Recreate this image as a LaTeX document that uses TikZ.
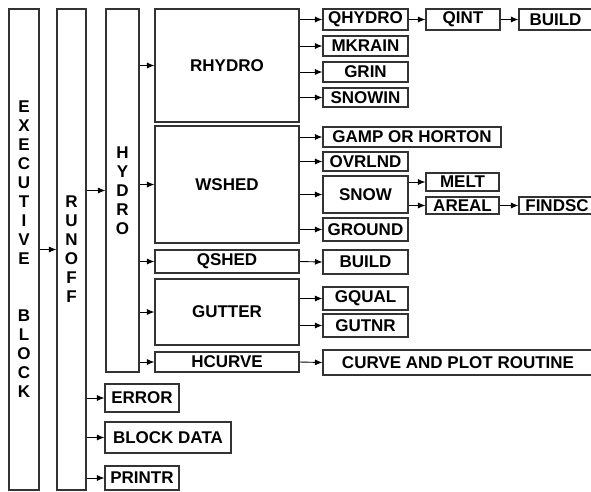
\documentclass[tikz,border=0pt]{standalone}
\usepackage{fontspec}
\setmainfont{Liberation Sans}
\usepackage{tikz}
\usetikzlibrary{arrows.meta}

\begin{document}
\begin{tikzpicture}[
    x=1pt, y=-1pt,
    box/.style={draw=black!80, line width=1.1pt, inner sep=0pt,
        font=\fontsize{17}{19}\selectfont\bfseries},
    vbox/.style={box, align=center},
    arr/.style={-{Latex[length=7.5pt,width=6pt]}, line width=0.9pt},
]
\useasboundingbox (0,0) rectangle (591,491);
\clip (0,0) rectangle (591,491);

% Tall columns
\node[vbox, minimum width=30pt, minimum height=481pt] (exec) at (24,249.5)
    {E\\X\\E\\C\\U\\T\\I\\V\\E\\[38pt]B\\L\\O\\C\\K};
\node[vbox, minimum width=29pt, minimum height=481pt] (runoff) at (71.5,249.5)
    {R\\U\\N\\O\\F\\F};
\node[vbox, minimum width=33pt, minimum height=363pt] (hydro) at (122.5,190.5)
    {H\\Y\\D\\R\\O};

% Second level under HYDRO
\node[box, minimum width=144pt, minimum height=113pt] (rhydro) at (227,65.5) {RHYDRO};
\node[box, minimum width=144pt, minimum height=117pt] (wshed) at (227,184.5) {WSHED};
\node[box, minimum width=144pt, minimum height=23pt] (qshed) at (227,261.5) {QSHED};
\node[box, minimum width=144pt, minimum height=66pt] (gutter) at (227,312) {GUTTER};
\node[box, minimum width=144pt, minimum height=20pt] (hcurve) at (227,362) {HCURVE};

% Routines called by RHYDRO
\node[box, minimum width=85pt, minimum height=21pt] (qhydro) at (365.5,19.5) {QHYDRO};
\node[box, minimum width=74pt, minimum height=21pt] (qint) at (463,19.5) {QINT};
\node[box, minimum width=73pt, minimum height=21pt] (builda) at (555.5,19.5) {BUILD};
\node[box, minimum width=85pt, minimum height=20pt] (mkrain) at (365.5,46) {MKRAIN};
\node[box, minimum width=85pt, minimum height=20pt] (grin) at (365.5,72) {GRIN};
\node[box, minimum width=85pt, minimum height=19pt] (snowin) at (365.5,97.5) {SNOWIN};

% Routines called by WSHED
\node[box, minimum width=178pt, minimum height=20pt] (gamp) at (412,137) {GAMP OR HORTON};
\node[box, minimum width=85pt, minimum height=19pt] (ovrlnd) at (365.5,161.5) {OVRLND};
\node[box, minimum width=85pt, minimum height=37pt] (snow) at (365.5,194.5) {SNOW};
\node[box, minimum width=73pt, minimum height=18pt] (melt) at (462.5,182) {MELT};
\node[box, minimum width=73pt, minimum height=17pt] (areal) at (462.5,205.5) {AREAL};
\node[box, minimum width=76pt, minimum height=17pt] (findsc) at (557,205.5) {FINDSC};
\node[box, minimum width=85pt, minimum height=23pt] (ground) at (365.5,229.5) {GROUND};

% Routines called by QSHED, GUTTER, HCURVE
\node[box, minimum width=85pt, minimum height=24pt] (buildb) at (365.5,262) {BUILD};
\node[box, minimum width=85pt, minimum height=23pt] (gqual) at (365.5,298.5) {GQUAL};
\node[box, minimum width=85pt, minimum height=23pt] (gutnr) at (365.5,325.5) {GUTNR};
\node[box, minimum width=270pt, minimum height=25pt] (curve) at (458,362.5) {CURVE AND PLOT ROUTINE};

% Other routines under RUNOFF
\node[box, minimum width=74pt, minimum height=28pt] (error) at (142,398) {ERROR};
\node[box, minimum width=126pt, minimum height=31pt] (blockdata) at (168,437.5) {BLOCK DATA};
\node[box, minimum width=74pt, minimum height=24pt] (printr) at (142,478) {PRINTR};

% Calls
\draw[arr] (exec.east |- runoff.west) -- (runoff.west);
\draw[arr] (runoff.east |- hydro.west) -- (hydro.west);
\foreach \n in {error,blockdata,printr}
    \draw[arr] (runoff.east |- \n.west) -- (\n.west);
\foreach \n in {rhydro,wshed,qshed,gutter,hcurve}
    \draw[arr] (hydro.east |- \n.west) -- (\n.west);
\foreach \n in {qhydro,mkrain,grin,snowin}
    \draw[arr] (rhydro.east |- \n.west) -- (\n.west);
\foreach \n in {gamp,ovrlnd,snow,ground}
    \draw[arr] (wshed.east |- \n.west) -- (\n.west);
\draw[arr] (qhydro.east) -- (qint.west);
\draw[arr] (qint.east) -- (builda.west);
\draw[arr] (snow.east |- melt.west) -- (melt.west);
\draw[arr] (snow.east |- areal.west) -- (areal.west);
\draw[arr] (areal.east) -- (findsc.west);
\draw[arr] (qshed.east) -- (buildb.west);
\foreach \n in {gqual,gutnr}
    \draw[arr] (gutter.east |- \n.west) -- (\n.west);
\draw[arr] (hcurve.east) -- (curve.west);
\end{tikzpicture}
\end{document}
